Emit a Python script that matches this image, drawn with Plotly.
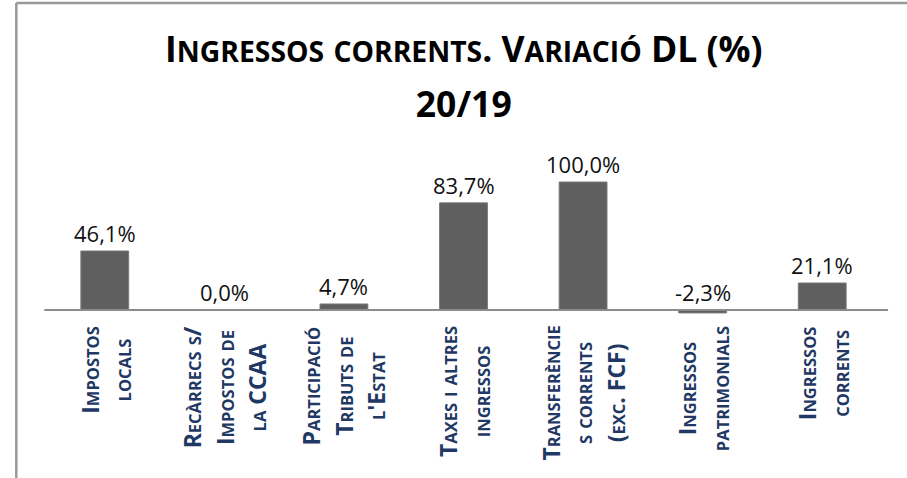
import plotly.graph_objects as go

categories = [
    "Impostos<br>locals",
    "Recàrrecs s/<br>Impostos de<br>la CCAA",
    "Participació<br>Tributs de<br>l'Estat",
    "Taxes i altres<br>ingressos",
    "Transferèncie<br>s corrents<br>(exc. FCF)",
    "Ingressos<br>patrimonials",
    "Ingressos<br>corrents",
]
values = [46.1, 0.0, 4.7, 83.7, 100.0, -2.3, 21.1]
title_lines = ["Ingressos corrents. Variació DL (%)", "20/19"]

W, H = 907, 478
# plot area in screenshot pixels
X0, X1 = 44.7, 881.9
Y_TOP, Y_BOT = 150, 330
L, R = X0, W - X1
T, B = Y_TOP, H - Y_BOT
PW, PH = W - L - R, H - T - B
FONT = "Open Sans"


def px_x(px):
    return (px - L) / PW


def px_y(py):
    return (H - B - py) / PH


def small_caps(text, big, small):
    out = []
    for line in text.split("<br>"):
        parts = []
        for ch in line:
            if ch.islower():
                parts.append(f"<span style='font-size:{small}px'>{ch.upper()}</span>")
            else:
                parts.append(f"<span style='font-size:{big}px'>{ch}</span>")
        out.append("".join(parts))
    return "<br>".join(out)


x_idx = list(range(len(categories)))

fig = go.Figure()
fig.add_trace(go.Bar(
    x=x_idx, y=values,
    marker=dict(color="#5f5f5f", line=dict(color="#7a7a7a", width=1)),
    width=0.4,
    hoverinfo="skip",
))

annotations = []
# data labels
for i, v in zip(x_idx, values):
    annotations.append(dict(
        x=i, y=max(v, 0), xref="x", yref="y",
        text=f"{v:.1f}%".replace(".", ","),
        showarrow=False, yanchor="bottom", xanchor="center", yshift=1,
        font=dict(family=FONT, size=22, color="#111111"),
    ))
# category labels
for i, c in zip(x_idx, categories):
    annotations.append(dict(
        x=i, y=0, xref="x", yref="y",
        text="<b>" + small_caps(c, 23, 16.5) + "</b>",
        showarrow=False, textangle=-90, yanchor="top", xanchor="center",
        align="center", yshift=-14,
        font=dict(family=FONT, size=25, color="#1f3864"),
    ))
# title
annotations.append(dict(
    x=0.5, y=px_y(22), xref="paper", yref="paper",
    text="<b>" + small_caps("<br>".join(title_lines), 35.5, 28.3) + "</b>",
    showarrow=False, yanchor="top", xanchor="center", align="center",
    font=dict(family=FONT, size=42, color="#000000"),
))

shapes = [
    dict(type="line", xref="paper", yref="paper",
         x0=px_x(16), x1=px_x(16), y0=px_y(3), y1=px_y(500),
         line=dict(color="#999999", width=2.5)),
    dict(type="line", xref="paper", yref="paper",
         x0=px_x(16), x1=px_x(950), y0=px_y(3), y1=px_y(3),
         line=dict(color="#999999", width=2.5)),
    dict(type="line", xref="paper", yref="y",
         x0=px_x(44), x1=px_x(888), y0=0, y1=0,
         line=dict(color="#8c8c8c", width=2)),
]

fig.update_layout(
    width=W, height=H,
    margin=dict(l=L, r=R, t=T, b=B, pad=0),
    paper_bgcolor="white", plot_bgcolor="white",
    showlegend=False,
    annotations=annotations,
    shapes=shapes,
    xaxis=dict(range=[-0.5, len(categories) - 0.5], showticklabels=False,
               showgrid=False, zeroline=False, showline=False, ticks=""),
    yaxis=dict(range=[-15.625, 125], visible=False, showgrid=False, zeroline=False),
)

fig.write_html("out.html",
               config={"displayModeBar": False},
               post_script="document.body.style.margin='0';document.body.style.overflow='hidden';")
